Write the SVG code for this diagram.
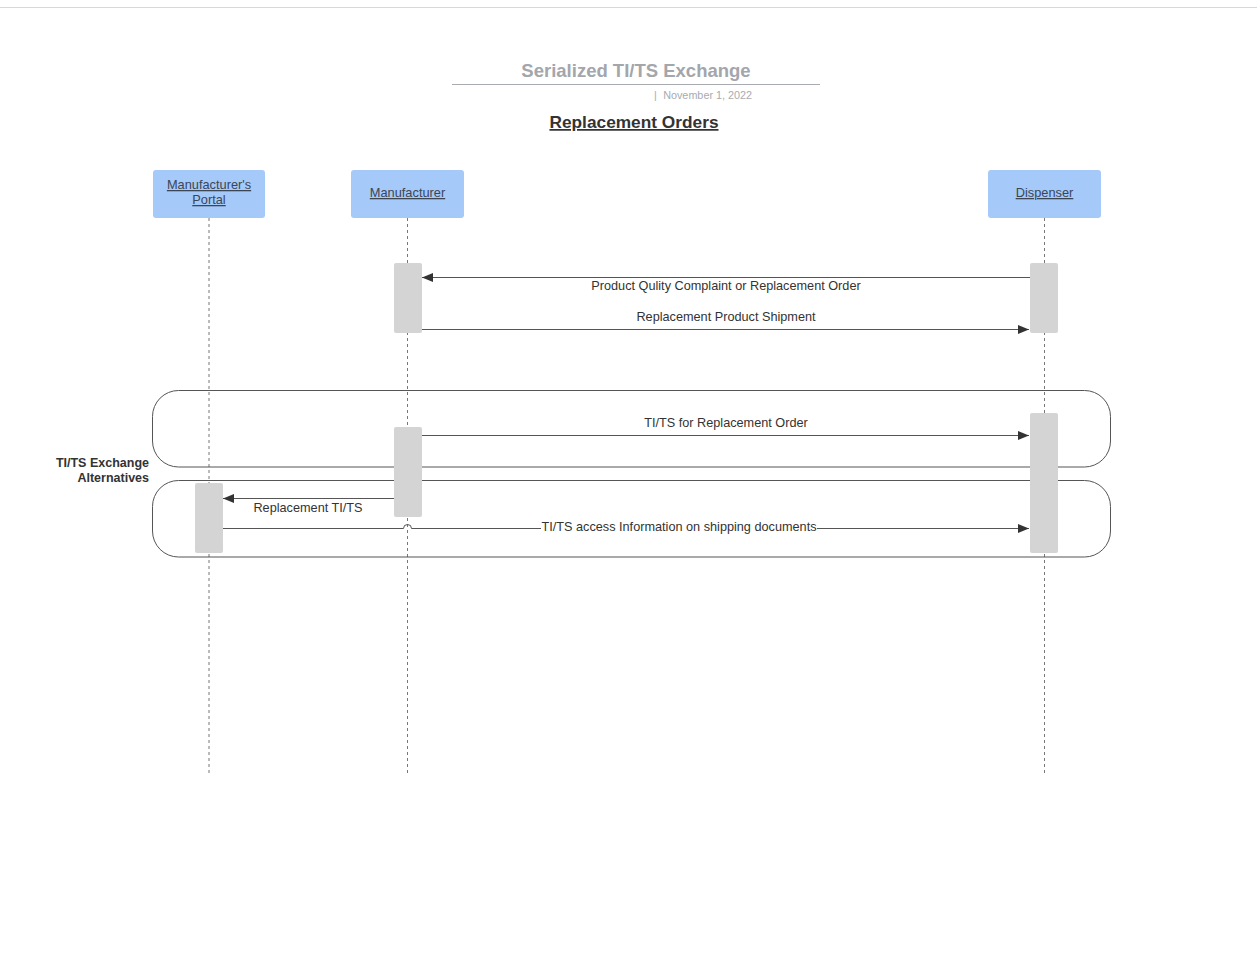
<svg xmlns="http://www.w3.org/2000/svg" width="1257" height="964" viewBox="0 0 1257 964">
<style>
text{font-family:"Liberation Sans",Arial,sans-serif;fill:#333}
.part{fill:#a5c9f8;stroke:none}
.ptxt{font-size:12.8px;text-anchor:middle;fill:#3b4656;text-decoration:underline}
.life{stroke:#777;stroke-width:1;stroke-dasharray:3,3;fill:none}
.act{fill:#d4d4d4;stroke:none}
.msg{stroke:#555;stroke-width:1;fill:none}
.mtxt{font-size:12.7px;text-anchor:middle}
.frame{fill:none;stroke:#555;stroke-width:1}
.date{font-size:10.8px;fill:#a8abb0}
</style>
<defs>
<marker id="ah" markerUnits="userSpaceOnUse" markerWidth="12" markerHeight="10" refX="11" refY="4.5" orient="auto">
<path d="M0,0 L11,4.5 L0,9 z" fill="#333"/>
</marker>
</defs>
<rect width="1257" height="964" fill="#fff"/>
<line x1="0" y1="7.5" x2="1257" y2="7.5" stroke="#d8d8d8" stroke-width="1"/>
<g id="header">
<text x="636" y="77" style="font-size:18.5px;font-weight:bold;fill:#a3a6ab" text-anchor="middle">Serialized TI/TS Exchange</text>
<line x1="452" y1="84.5" x2="820" y2="84.5" stroke="#a8abb0" stroke-width="1.2"/>
<text class="date" x="654" y="99">|</text>
<text class="date" x="752" y="99" text-anchor="end">November 1, 2022</text>
<text x="634" y="128" style="font-size:17.3px;font-weight:bold;text-decoration:underline" text-anchor="middle">Replacement Orders</text>
</g>
<g id="lifelines">
<line class="life" x1="209" y1="218" x2="209" y2="773"/>
<line class="life" x1="407.5" y1="218" x2="407.5" y2="773"/>
<line class="life" x1="1044.5" y1="218" x2="1044.5" y2="773"/>
</g>
<g id="frames">
<rect class="frame" x="152.5" y="390.5" width="958" height="76.5" rx="26"/>
<rect class="frame" x="152.5" y="480.5" width="958" height="76.5" rx="26"/>
<text x="149" y="467" style="font-size:12.5px;font-weight:bold" text-anchor="end">TI/TS Exchange</text>
<text x="149" y="482" style="font-size:12.5px;font-weight:bold" text-anchor="end">Alternatives</text>
</g>
<g id="portal">
<rect class="part" x="153" y="170" width="112" height="48" rx="3"/>
<text class="ptxt" x="209" y="189">Manufacturer's</text>
<text class="ptxt" x="209" y="204">Portal</text>
</g>
<g id="manufacturer">
<rect class="part" x="351" y="170" width="113" height="48" rx="3"/>
<text class="ptxt" x="407.5" y="197">Manufacturer</text>
</g>
<g id="dispenser">
<rect class="part" x="988" y="170" width="113" height="48" rx="3"/>
<text class="ptxt" x="1044.5" y="197">Dispenser</text>
</g>
<g id="activations">
<rect class="act" x="394" y="263" width="28" height="70" rx="2"/>
<rect class="act" x="1030" y="263" width="28" height="70" rx="2"/>
<rect class="act" x="394" y="427" width="28" height="90" rx="2"/>
<rect class="act" x="1030" y="413" width="28" height="140" rx="2"/>
<rect class="act" x="195" y="483" width="28" height="70" rx="2"/>
</g>
<g id="connectors">
<line class="msg" x1="1030" y1="277.5" x2="422" y2="277.5" marker-end="url(#ah)"/>
<text class="mtxt" x="726" y="290">Product Qulity Complaint or Replacement Order</text>
<line class="msg" x1="422" y1="329.5" x2="1029" y2="329.5" marker-end="url(#ah)"/>
<text class="mtxt" x="726" y="321">Replacement Product Shipment</text>
<line class="msg" x1="422" y1="435.5" x2="1029" y2="435.5" marker-end="url(#ah)"/>
<text class="mtxt" x="726" y="427">TI/TS for Replacement Order</text>
<line class="msg" x1="394" y1="498.5" x2="223" y2="498.5" marker-end="url(#ah)"/>
<text class="mtxt" x="308" y="512">Replacement TI/TS</text>
<path class="msg" d="M223,528.5 L403.5,528.5 A4,4 0 0 1 411.5,528.5 L541,528.5"/>
<line class="msg" x1="817" y1="528.5" x2="1029" y2="528.5" marker-end="url(#ah)"/>
<text class="mtxt" x="679" y="530.5">TI/TS access Information on shipping documents</text>
</g>
</svg>
